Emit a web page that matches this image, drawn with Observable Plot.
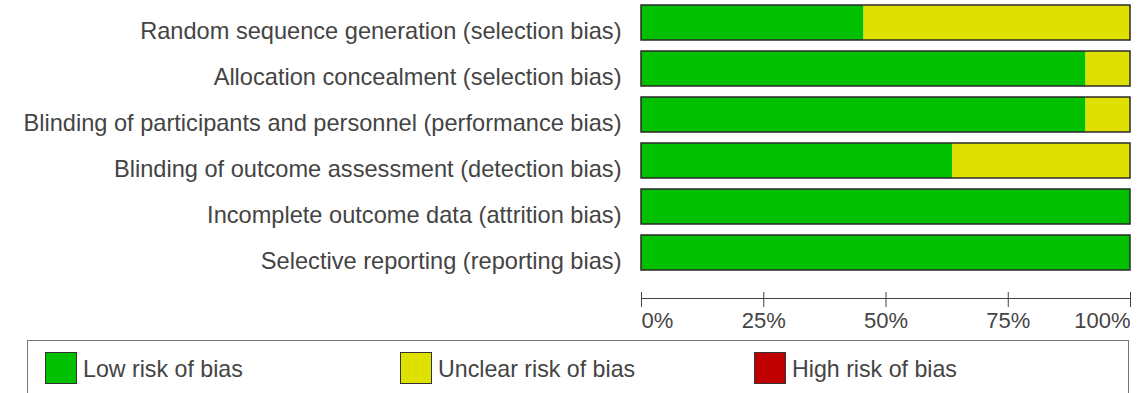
<!DOCTYPE html>
<html>
<head>
<meta charset="utf-8">
<script src="https://cdn.jsdelivr.net/npm/d3@7"></script>
<script src="https://cdn.jsdelivr.net/npm/@observablehq/plot@0.6"></script>
<style>
  body { margin: 0; background: #fff; font-family: "Liberation Sans", Arial, sans-serif; }
  #legend {
    position: relative; margin-left: 27px; width: 1102px; height: 60px;
    border: 1px solid #777; box-sizing: border-box; color: #444; font-size: 23.2px;
  }
  .item { position: absolute; top: 11px; display: flex; align-items: center; }
  .item span { padding-top: 3px; }
  .sw { width: 30px; height: 30px; border: 1px solid #333; margin-right: 6px; }
</style>
</head>
<body>
<div id="chart"></div>
<div id="legend"></div>
<script>
// Risk-of-bias domains, top to bottom
const domains = [
  "Random sequence generation (selection bias)",
  "Allocation concealment (selection bias)",
  "Blinding of participants and personnel (performance bias)",
  "Blinding of outcome assessment (detection bias)",
  "Incomplete outcome data (attrition bias)",
  "Selective reporting (reporting bias)"
];
// Percent of studies per judgement
const lowRisk     = [45.5, 90.9, 90.9, 63.6, 100, 100];
const unclearRisk = [54.5, 9.1, 9.1, 36.4, 0, 0];
const highRisk    = [0, 0, 0, 0, 0, 0];

const levels = ["Low risk of bias", "Unclear risk of bias", "High risk of bias"];
const levelColors = ["#00c000", "#e0e000", "#c00000"];
const ticks = [0, 25, 50, 75, 100];

const rows = [];
domains.forEach((d, i) => {
  rows.push({domain: d, level: levels[0], value: lowRisk[i]});
  rows.push({domain: d, level: levels[1], value: unclearRisk[i]});
  rows.push({domain: d, level: levels[2], value: highRisk[i]});
});

const chart = Plot.plot({
  width: 1143,
  height: 340,
  marginTop: 2,
  marginBottom: 67,
  marginLeft: 641,
  marginRight: 13,
  style: {fontFamily: "Liberation Sans, Arial, sans-serif", fontSize: "22px", color: "#444"},
  x: {domain: [0, 100], axis: null},
  y: {domain: domains, paddingInner: 0.234, paddingOuter: 0, axis: null},
  color: {domain: levels, range: levelColors},
  marks: [
    Plot.barX(rows, Plot.stackX({x: "value", y: "domain", fill: "level", order: levels})),
    Plot.barX(domains, {x1: 0, x2: 100, y: d => d, fill: "none", stroke: "#2a2a2a", strokeWidth: 1.5}),
    Plot.axisY({tickSize: 0, tickPadding: 20, fontSize: 23.6, dy: 8, label: null}),
    Plot.frame({anchor: "bottom", dy: 25, stroke: "#444"}),
    Plot.axisX({ticks, tickSize: 15, dy: 19, tickFormat: () => "", label: null, stroke: "#444"}),
    Plot.text([ticks[0]], {x: d => d, frameAnchor: "bottom", dy: 54, textAnchor: "start", text: d => d + "%"}),
    Plot.text(ticks.slice(1, -1), {x: d => d, frameAnchor: "bottom", dy: 54, text: d => d + "%"}),
    Plot.text([ticks[ticks.length - 1]], {x: d => d, frameAnchor: "bottom", dy: 54, textAnchor: "end", text: d => d + "%"})
  ]
});
document.getElementById("chart").append(chart);

// Legend box below the chart
const legend = d3.select("#legend");
const lefts = [17, 372, 726];
levels.forEach((lv, i) => {
  const item = legend.append("div").attr("class", "item").style("left", lefts[i] + "px");
  item.append("div").attr("class", "sw").style("background", levelColors[i]);
  item.append("span").text(lv);
});
</script>
</body>
</html>
